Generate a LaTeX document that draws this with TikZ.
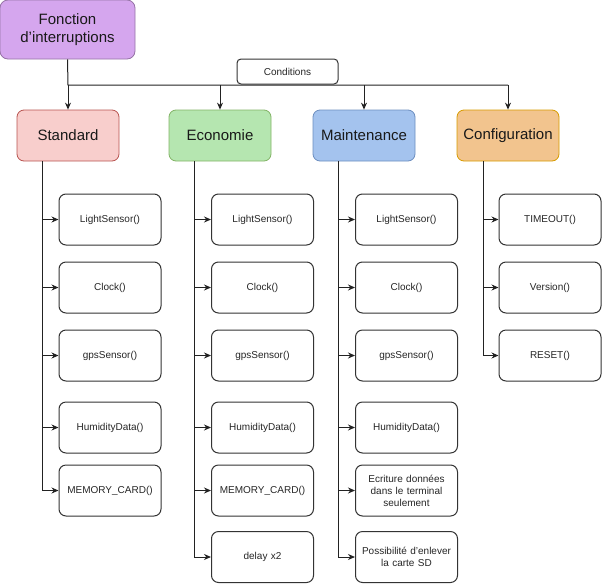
\documentclass[tikz,border=0pt]{standalone}
\usepackage{fontspec}
\setmainfont{Liberation Sans}
\usetikzlibrary{arrows.meta}
\definecolor{cpurple}{HTML}{D5A6EE}
\definecolor{cpurpleb}{HTML}{9673A6}
\definecolor{cpink}{HTML}{F8CECC}
\definecolor{cpinkb}{HTML}{B85450}
\definecolor{cgreen}{HTML}{B5E6B0}
\definecolor{cgreenb}{HTML}{82B366}
\definecolor{cblue}{HTML}{A4C3EE}
\definecolor{cblueb}{HTML}{6C8EBF}
\definecolor{corange}{HTML}{F2C48E}
\definecolor{corangeb}{HTML}{D79B00}
\definecolor{cline}{HTML}{222222}
\definecolor{cbox}{HTML}{333333}
\begin{document}
\begin{tikzpicture}[x=1pt,y=-1pt,
  header/.style={draw, line width=0.8pt, rounded corners=7pt, minimum width=102pt, minimum height=51pt, font=\fontsize{15}{18}\selectfont, inner sep=0pt, text=black!90},
  child/.style={draw=cbox, line width=1pt, rounded corners=7pt, fill=white, minimum width=102pt, minimum height=51pt, font=\fontsize{10}{12}\selectfont, align=center, inner sep=1pt, text width=96pt, text=black!85},
  conn/.style={draw=cline, line width=1pt, -{Stealth[length=7pt,width=6pt]}},
  plain/.style={draw=cline, line width=1pt}]
\useasboundingbox (0,0) rectangle (602,584);
% top
\node[header, fill=cpurple, draw=cpurpleb, minimum width=135pt, minimum height=59pt, rounded corners=8pt, align=center] (top) at (67.5,29.5) {Fonction\\d'interruptions};
% headers
\node[header, fill=cpink, draw=cpinkb] (std) at (68,135.5) {Standard};
\node[header, fill=cgreen, draw=cgreenb] (eco) at (220,135.5) {Economie};
\node[header, fill=cblue, draw=cblueb] (mnt) at (364,135.5) {Maintenance};
\node[header, fill=corange, draw=corangeb] (cfg) at (508,135.5) {Configuration};
% bus
\coordinate (bus) at (68,85);
\coordinate (busr) at (508,85);
\draw[plain] (top.south) -- (bus) -- (busr);
\node[draw=cbox, line width=1pt, rounded corners=4pt, fill=white, minimum width=101pt, minimum height=25pt, inner sep=0pt, font=\fontsize{10}{12}\selectfont, text=black!85] (cond) at (287.5,71.5) {Conditions};
\draw[conn] (bus) -- (std.north);
\draw[conn] (eco.north |- bus) -- (eco.north);
\draw[conn] (mnt.north |- bus) -- (mnt.north);
\draw[conn] (busr) -- (cfg.north);
% Standard column
\node[child] (s1) at (110,219.5) {LightSensor()};
\node[child] (s2) at (110,287.5) {Clock()};
\node[child] (s3) at (110,355.5) {gpsSensor()};
\node[child] (s4) at (110,427.5) {HumidityData()};
\node[child] (s5) at (110,490.5) {MEMORY\_CARD()};
\coordinate (sx) at (42,161);
\draw[plain] (sx) -- (sx |- s5.west);
\foreach \n in {s1,s2,s3,s4,s5} \draw[conn] (sx |- \n.west) -- (\n.west);
% Economie column
\node[child] (e1) at (262.5,219.5) {LightSensor()};
\node[child] (e2) at (262.5,287.5) {Clock()};
\node[child] (e3) at (262.5,355.5) {gpsSensor()};
\node[child] (e4) at (262.5,427.5) {HumidityData()};
\node[child] (e5) at (262.5,490.5) {MEMORY\_CARD()};
\node[child] (e6) at (262.5,557) {delay x2};
\coordinate (ex) at (194,161);
\draw[plain] (ex) -- (ex |- e6.west);
\foreach \n in {e1,e2,e3,e4,e5,e6} \draw[conn] (ex |- \n.west) -- (\n.west);
% Maintenance column
\node[child] (m1) at (406.5,219.5) {LightSensor()};
\node[child] (m2) at (406.5,287.5) {Clock()};
\node[child] (m3) at (406.5,355.5) {gpsSensor()};
\node[child] (m4) at (406.5,427.5) {HumidityData()};
\node[child] (m5) at (406.5,490.5) {Ecriture données\\dans le terminal\\seulement};
\node[child] (m6) at (406.5,557) {Possibilité d'enlever\\la carte SD};
\coordinate (mx) at (338,161);
\draw[plain] (mx) -- (mx |- m6.west);
\foreach \n in {m1,m2,m3,m4,m5,m6} \draw[conn] (mx |- \n.west) -- (\n.west);
% Configuration column
\node[child] (c1) at (550,219.5) {TIMEOUT()};
\node[child] (c2) at (550,287.5) {Version()};
\node[child] (c3) at (550,355.5) {RESET()};
\coordinate (cx) at (483,161);
\draw[plain] (cx) -- (cx |- c3.west);
\foreach \n in {c1,c2,c3} \draw[conn] (cx |- \n.west) -- (\n.west);
\end{tikzpicture}
\end{document}
